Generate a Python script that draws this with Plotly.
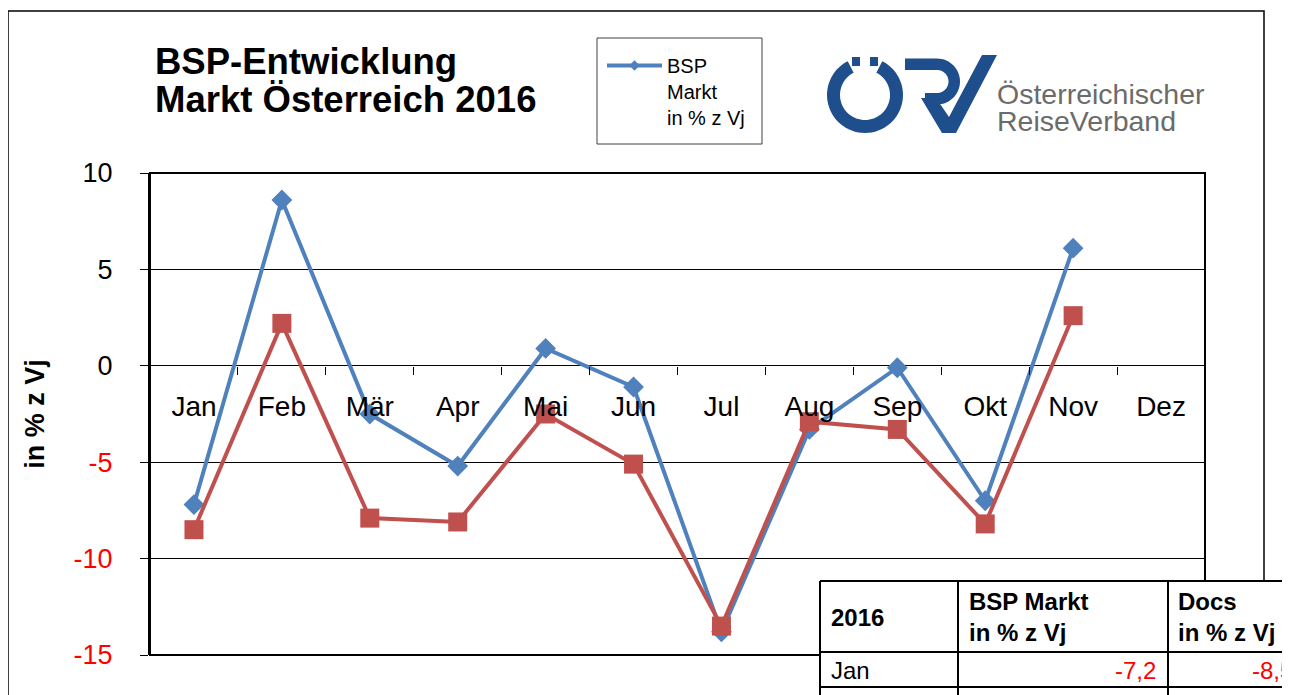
import plotly.graph_objects as go
import math

# ---------------- data ----------------
months = ["Jan", "Feb", "Mär", "Apr", "Mai", "Jun", "Jul", "Aug", "Sep", "Okt", "Nov", "Dez"]
bsp_markt = [-7.2, 8.6, -2.5, -5.2, 0.9, -1.1, -13.8, -3.3, -0.1, -7.0, 6.1, None]
docs = [-8.5, 2.2, -7.9, -8.1, -2.5, -5.1, -13.5, -2.9, -3.3, -8.2, 2.6, None]
y_ticks = [-15, -10, -5, 0, 5, 10]
title_lines = ["BSP-Entwicklung", "Markt Österreich 2016"]
legend_label = "BSP<br>Markt<br>in % z Vj"
table_header = ["2016", "BSP Markt<br>in % z Vj", "Docs<br>in % z Vj"]

BLUE = "#4F81BD"
RED = "#C0504D"
LOGO = "#1F4E8C"
FONT = "Liberation Sans, Arial, sans-serif"

OFF = 8  # default page margin of the html body
W, H = 1290 - OFF, 695 - OFF
PLOT_L, PLOT_R, PLOT_T, PLOT_B = 150, 1205, 173, 655  # page pixels
ML, MR = PLOT_L - OFF, W - (PLOT_R - OFF)
MT, MB = PLOT_T - OFF, H - (PLOT_B - OFF)
PW, PH = W - ML - MR, H - MT - MB


def xp(px):
    return (px - PLOT_L) / PW


def yp(py):
    return (PLOT_B - py) / PH


def path_from(points):
    return "M " + " L ".join(f"{xp(x):.5f},{yp(y):.5f}" for x, y in points) + " Z"


fig = go.Figure()

fig.add_trace(go.Scatter(
    x=months, y=bsp_markt, mode="lines+markers", name="BSP",
    line=dict(color=BLUE, width=4),
    marker=dict(symbol="diamond", size=16, color=BLUE),
    showlegend=False,
))
fig.add_trace(go.Scatter(
    x=months, y=docs, mode="lines+markers", name="Docs",
    line=dict(color=RED, width=4),
    marker=dict(symbol="square", size=19, color=RED),
    showlegend=False,
))
# legend proxy (small marker as in the original legend)
fig.add_trace(go.Scatter(
    x=[None], y=[None], mode="lines+markers", name=legend_label,
    line=dict(color=BLUE, width=4),
    marker=dict(symbol="diamond", size=8, color=BLUE),
    showlegend=True,
))

ticktext = [f'<span style="color:#FF0000">{v}</span>' if v < 0 else str(v) for v in y_ticks]

fig.update_layout(
    width=W, height=H,
    margin=dict(l=ML, r=MR, t=MT, b=MB, pad=0, autoexpand=False),
    paper_bgcolor="white", plot_bgcolor="white",
    font=dict(family=FONT, color="black"),
    showlegend=True,
    legend=dict(
        xref="paper", yref="paper",
        x=xp(602), y=yp(46), xanchor="left", yanchor="top",
        borderwidth=0, bgcolor="rgba(0,0,0,0)",
        font=dict(size=20, family=FONT, color="black"),
        valign="top", itemwidth=55, tracegroupgap=0,
    ),
    xaxis=dict(
        type="category", categoryorder="array", categoryarray=months,
        range=[-0.5, 11.5],
        anchor="free", position=0.6, automargin=False,
        showgrid=False, zeroline=False, showline=False,
        ticks="outside", tickson="boundaries", ticklen=8, tickwidth=1, tickcolor="black",
        tickfont=dict(size=28, family=FONT, color="black"),
        tickangle=0, ticklabelstandoff=21,
    ),
    yaxis=dict(
        range=[-15, 10], tickvals=y_ticks, ticktext=ticktext, automargin=False,
        showgrid=True, gridcolor="black", gridwidth=1,
        zeroline=False,
        showline=True, linecolor="black", linewidth=2,
        ticks="outside", ticklen=8, tickwidth=1, tickcolor="black",
        tickfont=dict(size=27, family=FONT, color="black"),
        ticklabelstandoff=22,
        title=dict(text="<b>in % z Vj</b>", font=dict(size=27, family=FONT, color="black"), standoff=21),
    ),
)

shapes = []
# outer frame of the chart object
shapes.append(dict(type="rect", xref="paper", yref="paper",
                   x0=xp(8), x1=xp(1264), y0=yp(720), y1=yp(11),
                   line=dict(color="black", width=1.5), fillcolor="rgba(0,0,0,0)", layer="below"))
# legend frame
shapes.append(dict(type="rect", xref="paper", yref="paper",
                   x0=xp(597), x1=xp(762), y0=yp(144), y1=yp(38),
                   line=dict(color="#404040", width=1), fillcolor="white", layer="below"))
# plot area box
shapes.append(dict(type="rect", xref="x domain", yref="y domain", x0=0, x1=1, y0=0, y1=1,
                   line=dict(color="black", width=2), fillcolor="rgba(0,0,0,0)", layer="above"))

# ---- logo ----
cx, cy, Ro, Ri = 865, 95, 38, 25
gap = 27
pts_out, pts_in = [], []
for i in range(0, 61):
    a = math.radians(gap + (360 - 2 * gap) * i / 60)
    pts_out.append((cx + Ro * math.sin(a), cy - Ro * math.cos(a)))
for i in range(60, -1, -1):
    a = math.radians(gap + (360 - 2 * gap) * i / 60)
    pts_in.append((cx + Ri * math.sin(a), cy - Ri * math.cos(a)))
shapes.append(dict(type="path", xref="paper", yref="paper", path=path_from(pts_out + pts_in),
                   fillcolor=LOGO, line=dict(width=0), layer="above"))
for dx in (852, 870):
    shapes.append(dict(type="rect", xref="paper", yref="paper",
                       x0=xp(dx), x1=xp(dx + 8), y0=yp(66), y1=yp(57),
                       fillcolor=LOGO, line=dict(width=0), layer="above"))
# R bowl
bx, by, bRo, bRi = 937, 81.5, 23, 11.5
pts = [(905, 58.5), (bx, 58.5)]
for i in range(0, 31):
    a = math.radians(-90 + 180 * i / 30)
    pts.append((bx + bRo * math.cos(a), by + bRo * math.sin(a)))
pts += [(925, 104.5), (925, 93)]
for i in range(30, -1, -1):
    a = math.radians(-90 + 180 * i / 30)
    pts.append((bx + bRi * math.cos(a), by + bRi * math.sin(a)))
pts += [(905, 70)]
shapes.append(dict(type="path", xref="paper", yref="paper", path=path_from(pts),
                   fillcolor=LOGO, line=dict(width=0), layer="above"))
# R leg + V
vpts = [(921, 98), (936, 98), (949, 117), (982, 55), (997, 55), (956, 133), (942, 133)]
shapes.append(dict(type="path", xref="paper", yref="paper", path=path_from(vpts),
                   fillcolor=LOGO, line=dict(width=0), layer="above"))

# ---- table ----
tx = [820, 958, 1168, 1310]
ty = [581, 652, 687, 720]
shapes.append(dict(type="rect", xref="paper", yref="paper",
                   x0=xp(tx[0]), x1=xp(tx[-1]), y0=yp(ty[-1]), y1=yp(ty[0]),
                   fillcolor="white", line=dict(width=0), layer="above"))
for yy in ty[:3]:
    shapes.append(dict(type="line", xref="paper", yref="paper",
                       x0=xp(tx[0]), x1=xp(tx[-1]), y0=yp(yy), y1=yp(yy),
                       line=dict(color="black", width=2), layer="above"))
for xx in tx[:3]:
    shapes.append(dict(type="line", xref="paper", yref="paper",
                       x0=xp(xx), x1=xp(xx), y0=yp(ty[0]), y1=yp(ty[-1]),
                       line=dict(color="black", width=2), layer="above"))

fig.update_layout(shapes=shapes)

ann = []
# title
for line_text, yc in zip(title_lines, (62, 99)):
    ann.append(dict(text=f"<b>{line_text}</b>", x=xp(153), y=yp(yc), xref="paper", yref="paper",
                    xanchor="left", yanchor="middle", showarrow=False,
                    font=dict(size=36.5, family=FONT, color="black")))
# logo text
for line_text, yc in zip(("Österreichischer", "ReiseVerband"), (94, 121)):
    ann.append(dict(text=line_text, x=xp(995), y=yp(yc), xref="paper", yref="paper",
                    xanchor="left", yanchor="middle", showarrow=False,
                    font=dict(size=28.5, family=FONT, color="#6b6b6b")))
# table header
hx = [829, 967, 1176]
for x0, t in zip(hx, table_header):
    ann.append(dict(text=f"<b>{t}</b>", x=xp(x0), y=yp(617), xref="paper", yref="paper",
                    xanchor="left", yanchor="middle", align="left", showarrow=False,
                    font=dict(size=24, family=FONT, color="black")))
# table first row (Jan)
fmt = lambda v: f"{v:.1f}".replace(".", ",")
ann.append(dict(text=months[0], x=xp(829), y=yp(670), xref="paper", yref="paper",
                xanchor="left", yanchor="middle", showarrow=False,
                font=dict(size=24, family=FONT, color="black")))
ann.append(dict(text=fmt(bsp_markt[0]), x=xp(1158), y=yp(670), xref="paper", yref="paper",
                xanchor="right", yanchor="middle", showarrow=False,
                font=dict(size=24, family=FONT, color="#FF0000")))
ann.append(dict(text=fmt(docs[0]), x=xp(1295), y=yp(670), xref="paper", yref="paper",
                xanchor="right", yanchor="middle", showarrow=False,
                font=dict(size=24, family=FONT, color="#FF0000")))
fig.update_layout(annotations=ann)

fig.write_html("out.html")
